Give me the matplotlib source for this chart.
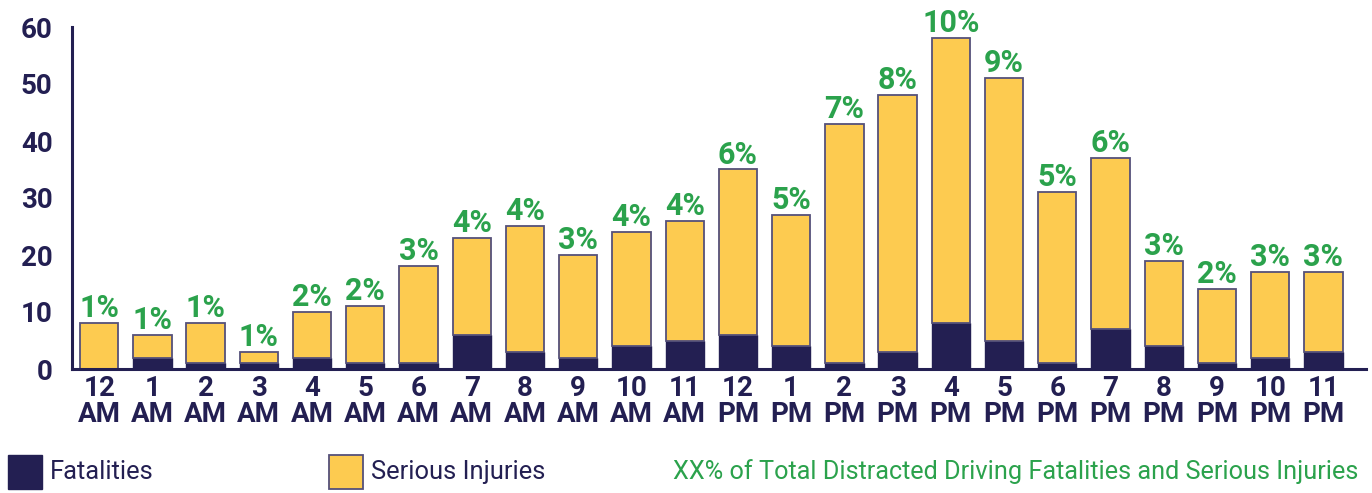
import matplotlib
matplotlib.use("Agg")
import matplotlib.pyplot as plt
from matplotlib.patches import Rectangle

hours = ["12\nAM", "1\nAM", "2\nAM", "3\nAM", "4\nAM", "5\nAM", "6\nAM", "7\nAM",
         "8\nAM", "9\nAM", "10\nAM", "11\nAM", "12\nPM", "1\nPM", "2\nPM", "3\nPM",
         "4\nPM", "5\nPM", "6\nPM", "7\nPM", "8\nPM", "9\nPM", "10\nPM", "11\nPM"]
fatalities = [0, 2, 1, 1, 2, 1, 1, 6, 3, 2, 4, 5, 6, 4, 1, 3, 8, 5, 1, 7, 4, 1, 2, 3]
serious = [8, 4, 7, 2, 8, 10, 17, 17, 22, 18, 20, 21, 29, 23, 42, 45, 50, 46, 30, 30, 15, 13, 15, 14]
pct_labels = ["1%", "1%", "1%", "1%", "2%", "2%", "3%", "4%", "4%", "3%", "4%", "4%",
              "6%", "5%", "7%", "8%", "10%", "9%", "5%", "6%", "3%", "2%", "3%", "3%"]
yticks = [0, 10, 20, 30, 40, 50, 60]

NAVY = "#231F52"
YELLOW = "#FDCB50"
GREEN = "#2BA24C"
EDGE = "#55517A"

plt.rcParams["font.family"] = ["Roboto", "DejaVu Sans"]

fig = plt.figure(figsize=(13.72, 4.93), dpi=100)
ax = fig.add_axes([72 / 1372, 1 - 369 / 493, (1366 - 72) / 1372, (369 - 27) / 493])

x = list(range(len(hours)))
ax.bar(x, fatalities, width=0.72, color=NAVY, edgecolor=NAVY, linewidth=1.0, zorder=2)
ax.bar(x, serious, width=0.72, bottom=fatalities, color=YELLOW, edgecolor=EDGE,
       linewidth=1.3, zorder=2)

totals = [f + s for f, s in zip(fatalities, serious)]
for xi, t, lab in zip(x, totals, pct_labels):
    ax.annotate(lab, (xi, t), xytext=(0, 0), textcoords="offset points",
                ha="center", va="bottom", color=GREEN, fontsize=22,
                fontweight="bold", clip_on=False, annotation_clip=False)

ax.set_xlim(-0.51, 23.8)
ax.set_ylim(0, 60)
ax.set_yticks(yticks)
ax.set_xticks(x)
ax.set_xticklabels(hours, linespacing=0.95)
ax.tick_params(axis="both", length=0, colors=NAVY)
ax.tick_params(axis="x", pad=4, labelsize=20)
ax.tick_params(axis="y", pad=14, labelsize=20)
for lab in ax.get_xticklabels() + ax.get_yticklabels():
    lab.set_fontweight("bold")
for s in ["top", "right"]:
    ax.spines[s].set_visible(False)
for s in ["left", "bottom"]:
    ax.spines[s].set_color(NAVY)
    ax.spines[s].set_linewidth(2.2)

# legend
fig.patches.append(Rectangle((8 / 1372, 1 - 489 / 493), 34 / 1372, 34 / 493,
                             transform=fig.transFigure, facecolor=NAVY, edgecolor=NAVY))
fig.text(50 / 1372, 1 - 472 / 493, "Fatalities", color=NAVY, fontsize=18.4, va="center")
fig.patches.append(Rectangle((329 / 1372, 1 - 489 / 493), 34 / 1372, 34 / 493,
                             transform=fig.transFigure, facecolor=YELLOW, edgecolor=EDGE,
                             linewidth=1.3))
fig.text(371 / 1372, 1 - 472 / 493, "Serious Injuries", color=NAVY, fontsize=18.4, va="center")
fig.text(1358 / 1372, 1 - 472 / 493,
         "XX% of Total Distracted Driving Fatalities and Serious Injuries",
         color=GREEN, fontsize=18.2, va="center", ha="right")

fig.savefig("out.png", dpi=100)
